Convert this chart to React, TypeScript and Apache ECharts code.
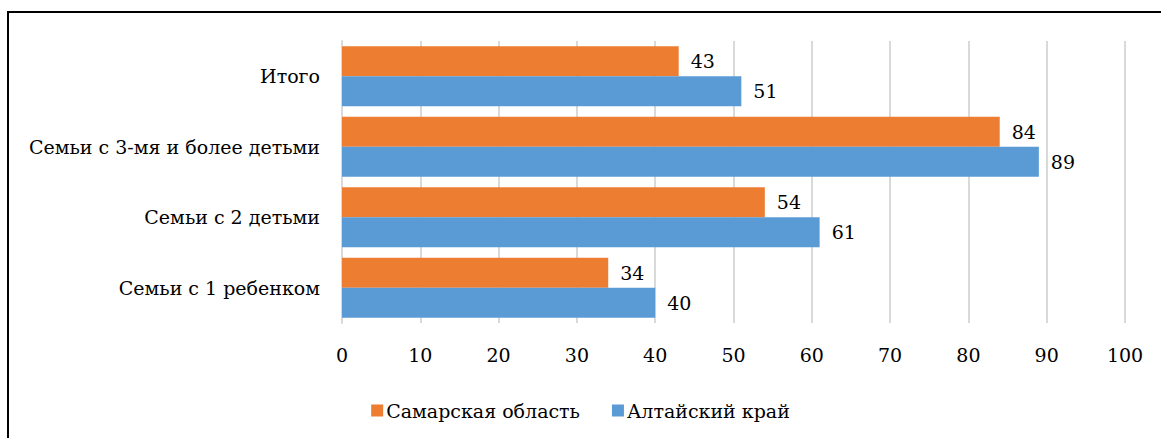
import React, { useEffect, useRef } from "react";
import * as echarts from "echarts";

const categories = ["Семьи с 1 ребенком", "Семьи с 2 детьми", "Семьи с 3-мя и более детьми", "Итого"];
const samara = [34, 54, 84, 43];
const altai = [40, 61, 89, 51];
const seriesNames = ["Самарская область", "Алтайский край"];
const FONT = "DejaVu Serif";
const FS = 19;

export default function App() {
  const ref = useRef<HTMLDivElement>(null);
  useEffect(() => {
    const chart = echarts.init(ref.current!, null, { renderer: "svg" });
    const labelStyle = { show: true, position: "right" as const, distance: 12, color: "#000", fontFamily: FONT, fontSize: FS };
    chart.setOption({
      animation: false,
      textStyle: { fontFamily: FONT },
      grid: { left: 342, right: 36, top: 41, bottom: 115, containLabel: false },
      legend: {
        data: [seriesNames[0], seriesNames[1]],
        bottom: 13,
        left: "center",
        icon: "rect",
        itemWidth: 12,
        itemHeight: 12,
        itemGap: 32,
        textStyle: { color: "#000", fontFamily: FONT, fontSize: FS, padding: [0, 0, 0, -2] },
      },
      xAxis: {
        type: "value",
        min: 0,
        max: 100,
        interval: 10,
        axisLine: { show: false },
        axisTick: { show: false },
        splitLine: { show: true, lineStyle: { color: "#d9d9d9", width: 2 } },
        axisLabel: { color: "#000", fontFamily: FONT, fontSize: FS, margin: 22 },
      },
      yAxis: {
        type: "category",
        data: categories,
        axisLine: { show: true, lineStyle: { color: "#d9d9d9", width: 2 } },
        axisTick: { show: false },
        axisLabel: { color: "#000", fontFamily: FONT, fontSize: FS, margin: 22 },
      },
      series: [
        {
          name: seriesNames[0],
          type: "bar",
          data: samara,
          barGap: "0%",
          barCategoryGap: "15%",
          itemStyle: { color: "#ED7D31" },
          label: labelStyle,
        },
        {
          name: seriesNames[1],
          type: "bar",
          data: altai,
          barGap: "0%",
          barCategoryGap: "15%",
          itemStyle: { color: "#5B9BD5" },
          label: labelStyle,
        },
      ],
    });
    return () => chart.dispose();
  }, []);
  return (
    <div style={{ position: "fixed", left: 0, top: 0, width: 1161, height: 438, background: "#fff" }}>
      <div ref={ref} style={{ position: "absolute", left: 0, top: 0, width: 1161, height: 438 }} />
      <div
        style={{
          position: "absolute",
          left: 7,
          top: 11,
          width: 2000,
          height: 2000,
          borderTop: "2px solid #000",
          borderLeft: "2px solid #000",
          pointerEvents: "none",
        }}
      />
    </div>
  );
}
